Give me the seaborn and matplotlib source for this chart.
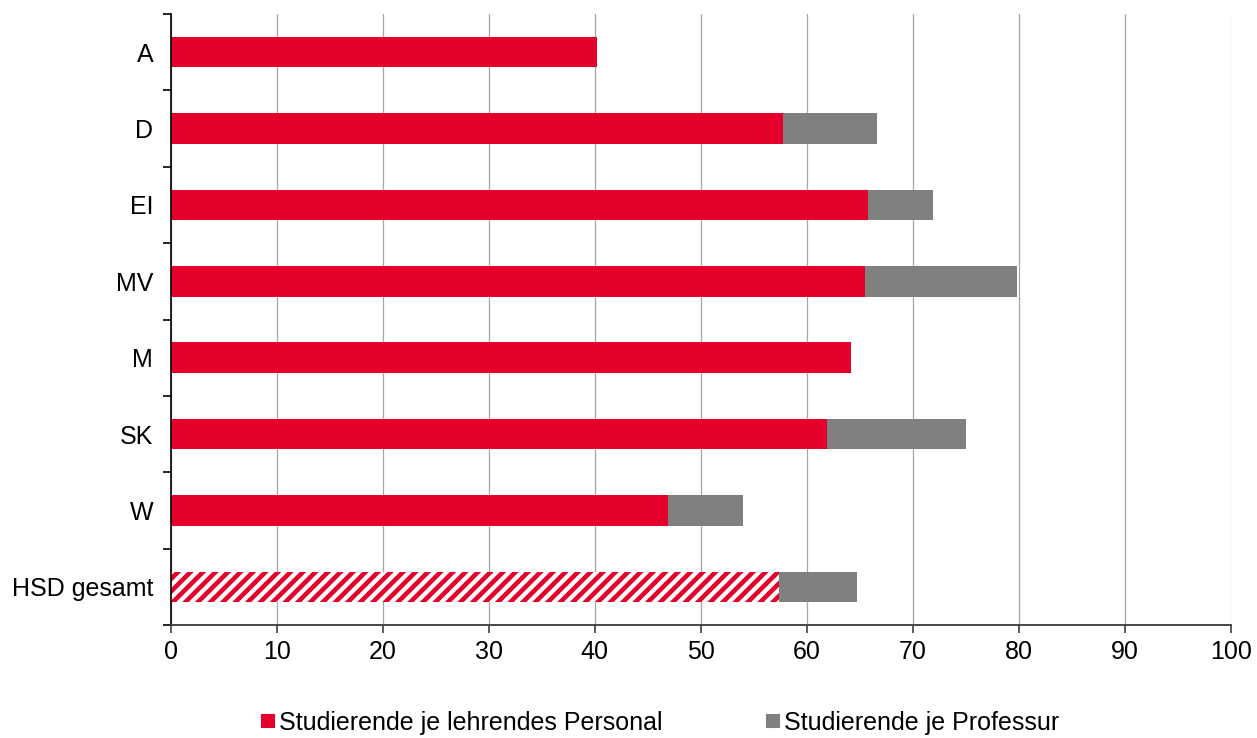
import matplotlib
matplotlib.use("Agg")
import matplotlib.pyplot as plt
from matplotlib.lines import Line2D
import numpy as np
import pandas as pd
import seaborn as sns

# data
categories = ["A", "D", "EI", "MV", "M", "SK", "W", "HSD gesamt"]
per_staff = [40.2, 57.8, 65.8, 65.5, 64.2, 61.9, 46.9, 57.4]
per_prof = [np.nan, 66.6, 71.9, 79.8, np.nan, 75.0, 54.0, 64.7]
xticks = np.arange(0, 101, 10)

RED = "#e4002b"
GREY = "#808080"

sns.set_theme(style="white")
plt.rcParams["font.family"] = ["Liberation Sans", "DejaVu Sans"]
plt.rcParams["hatch.linewidth"] = 2.2
plt.rcParams["hatch.color"] = RED

df = pd.DataFrame({"cat": categories, "staff": per_staff, "prof": per_prof})

# 1257x738 px
fig = plt.figure(figsize=(8.38, 4.92), dpi=150)
ax = fig.add_axes([0.136, 0.153, 0.843, 0.828])

# grey (per professorship) behind, red (per teaching staff) on top
sns.barplot(data=df, y="cat", x="prof", color=GREY, width=0.4, saturation=1,
            orient="h", ax=ax, order=categories, linewidth=0)
sns.barplot(data=df, y="cat", x="staff", color=RED, width=0.4, saturation=1,
            orient="h", ax=ax, order=categories, linewidth=0)

# hatch the total bar
last = ax.patches[-1]
last.set_facecolor("white")
last.set_edgecolor(RED)
last.set_hatch("////")
last.set_linewidth(0)

ax.set_xlim(0, 100)
ax.set_ylim(len(categories) - 0.5, -0.5)
ax.set_xticks(xticks)
ax.xaxis.grid(True, color="#a6a6a6", linewidth=0.6)
ax.set_axisbelow(True)
ax.set_xlabel("")
ax.set_ylabel("")

for s in ["top", "right"]:
    ax.spines[s].set_visible(False)
ax.spines["left"].set_color("black")
ax.spines["left"].set_linewidth(0.8)
ax.spines["bottom"].set_color("#404040")
ax.spines["bottom"].set_linewidth(0.9)

ax.set_yticks(np.arange(-0.5, len(categories), 1), minor=True)
ax.tick_params(axis="y", which="major", length=0, pad=8.5, labelsize=12, labelcolor="black")
ax.tick_params(axis="y", which="minor", length=3.8, width=0.8, color="black", direction="out", left=True)
ax.tick_params(axis="x", which="major", length=3.8, width=0.8, color="#404040",
               direction="out", labelsize=12, pad=3.5, bottom=True, labelcolor="black")

handles = [Line2D([], [], marker="s", linestyle="", color=RED, markersize=6.2),
           Line2D([], [], marker="s", linestyle="", color=GREY, markersize=6.2)]
fig.legend(handles, ["Studierende je lehrendes Personal", "Studierende je Professur"],
           loc="center", bbox_to_anchor=(0.524, 0.02), ncol=2, frameon=False,
           fontsize=12, columnspacing=4, handletextpad=0.05, handlelength=0.8,
           labelcolor="black")

fig.savefig("out.png", dpi=150)
